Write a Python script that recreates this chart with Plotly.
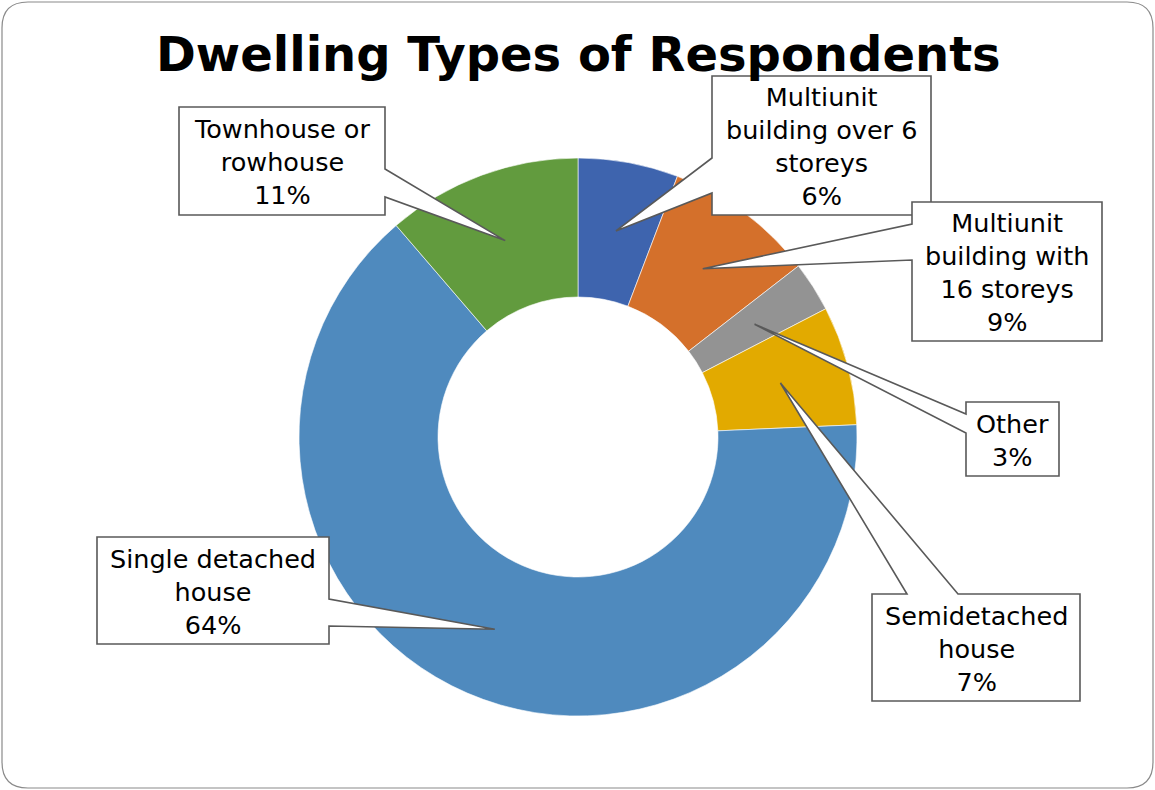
import plotly.graph_objects as go
import math

# ---- data ----
categories = [
    "Multiunit building over 6 storeys",
    "Multiunit building with 16 storeys",
    "Other",
    "Semidetached house",
    "Single detached house",
    "Townhouse or rowhouse",
]
label_lines = [
    "Multiunit<br>building over 6<br>storeys",
    "Multiunit<br>building with<br>16 storeys",
    "Other",
    "Semidetached<br>house",
    "Single detached<br>house",
    "Townhouse or<br>rowhouse",
]
values = [5.8, 8.7, 2.9, 6.9, 64.4, 11.3]
colors = ["#3E64AE", "#D4702B", "#939393", "#E2AA00", "#4F8ABE", "#629B3E"]

# ---- layout geometry (pixels) ----
W, H = 1155, 790
CX, CY, R_OUT, R_IN = 578, 437, 279, 140
R_MID = (R_OUT + R_IN) / 2


def px(x):
    return x / W


def py(y):
    return 1 - y / H


# callout boxes: (left, top, right, bottom), wedge side, wedge base (a, b)
boxes = [
    ((712, 76, 931, 215), "left", (158, 193)),
    ((912, 202, 1102, 341), "left", (224, 260)),
    ((966, 402, 1059, 476), "left", (414, 433)),
    ((872, 594, 1080, 701), "top", (907, 958)),
    ((97, 537, 329, 644), "right", (599, 626)),
    ((179, 107, 385, 215), "right", (169, 197)),
]

fig = go.Figure()
fig.add_trace(go.Pie(
    labels=categories,
    values=values,
    sort=False,
    direction="clockwise",
    rotation=0,
    hole=R_IN / R_OUT,
    marker=dict(colors=colors, line=dict(color="white", width=0.6)),
    textinfo="none",
    hoverinfo="label+percent",
    showlegend=False,
    domain=dict(x=[px(CX - R_OUT), px(CX + R_OUT)],
                y=[py(CY + R_OUT), py(CY - R_OUT)]),
))

shapes = []
annotations = []
total = sum(values)
cum = 0.0
for i, v in enumerate(values):
    theta = math.radians(360 * (cum + v / 2) / total)
    cum += v
    tx = CX + R_MID * math.sin(theta)
    ty = CY - R_MID * math.cos(theta)
    (l, t, r, b), side, (a1, a2) = boxes[i]
    if side == "left":
        pts = [(l, t), (r, t), (r, b), (l, b), (l, a2), (tx, ty), (l, a1)]
    elif side == "right":
        pts = [(l, t), (r, t), (r, a1), (tx, ty), (r, a2), (r, b), (l, b)]
    else:  # top
        pts = [(l, t), (a1, t), (tx, ty), (a2, t), (r, t), (r, b), (l, b)]
    path = "M " + " L ".join(f"{px(x):.5f},{py(y):.5f}" for x, y in pts) + " Z"
    shapes.append(dict(type="path", path=path, xref="paper", yref="paper",
                       fillcolor="white", line=dict(color="#595959", width=1.6),
                       layer="above"))
    pct = round(100 * v / total)
    annotations.append(dict(
        x=px((l + r) / 2), y=py((t + b) / 2 + 1), xref="paper", yref="paper",
        text=f"{label_lines[i]}<br>{pct}%", showarrow=False,
        font=dict(family="DejaVu Sans", size=25.5, color="black"),
        xanchor="center", yanchor="middle", align="center",
    ))

# outer rounded border
rr = 26
L0, T0, R0, B0 = 2, 2, 1153, 788
border = (f"M {px(L0+rr)},{py(T0)} L {px(R0-rr)},{py(T0)} "
          f"Q {px(R0)},{py(T0)} {px(R0)},{py(T0+rr)} L {px(R0)},{py(B0-rr)} "
          f"Q {px(R0)},{py(B0)} {px(R0-rr)},{py(B0)} L {px(L0+rr)},{py(B0)} "
          f"Q {px(L0)},{py(B0)} {px(L0)},{py(B0-rr)} L {px(L0)},{py(T0+rr)} "
          f"Q {px(L0)},{py(T0)} {px(L0+rr)},{py(T0)} Z")
shapes.append(dict(type="path", path=border, xref="paper", yref="paper",
                   line=dict(color="#8A8A8A", width=1.2), layer="below"))

annotations.append(dict(
    x=px(578), y=py(54), xref="paper", yref="paper",
    text="<b>Dwelling Types of Respondents</b>", showarrow=False,
    font=dict(family="DejaVu Sans", size=48, color="black"),
    xanchor="center", yanchor="middle",
))

fig.update_layout(
    width=W, height=H,
    margin=dict(l=0, r=0, t=0, b=0),
    paper_bgcolor="white",
    plot_bgcolor="white",
    shapes=shapes,
    annotations=annotations,
)

fig.write_html("out.html")
